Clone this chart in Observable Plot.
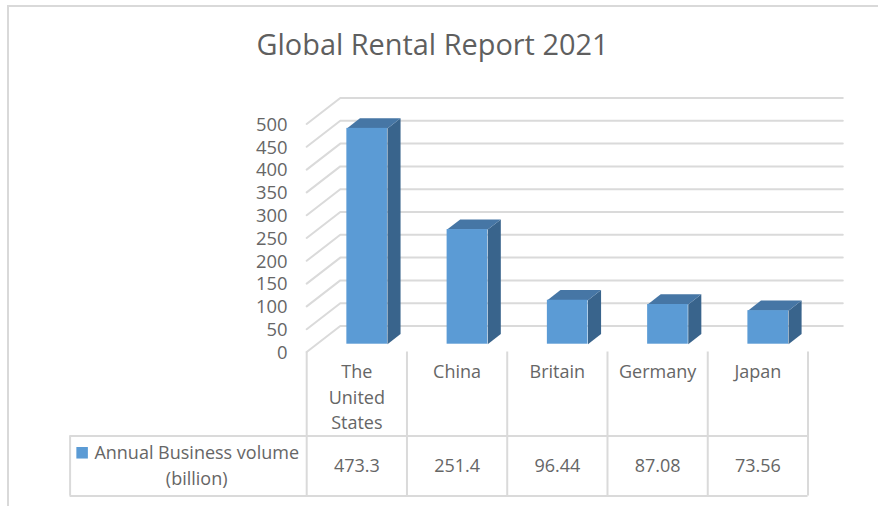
<!DOCTYPE html>
<html>
<head>
<meta charset="utf-8">
<script src="https://cdn.jsdelivr.net/npm/d3@7"></script>
<script src="https://cdn.jsdelivr.net/npm/@observablehq/plot@0.6"></script>
<style>
  html, body { margin: 0; padding: 0; background: #fff; width: 878px; height: 506px; overflow: hidden; }
  body { font-family: "Open Sans", sans-serif; position: relative; }
  #frame { position: absolute; left: 7px; top: 5px; width: 871px; height: 501px; box-sizing: border-box; border-left: 2px solid #d9d9d9; border-top: 2px solid #d9d9d9; }
  #title { position: relative; height: 72px; width: 865px; box-sizing: border-box; padding-top: 26px; text-align: center; font-size: 28.9px; line-height: 36px; color: #5f5f5f; }
  #chart svg { display: block; position: relative; }
</style>
</head>
<body>
<div id="frame"></div>
<div id="title">Global Rental Report 2021</div>
<div id="chart"></div>
<script>
const categories = ["The United States", "China", "Britain", "Germany", "Japan"];
const volumes = [473.3, 251.4, 96.44, 87.08, 73.56];
const volumeLabels = ["473.3", "251.4", "96.44", "87.08", "73.56"];
const yTicks = [0, 50, 100, 150, 200, 250, 300, 350, 400, 450, 500];
const seriesName = "Annual Business volume\n(billion)";

const GRID = "#dadada", TEXT = "#666666";
const FRONT = "#5b9bd5", SIDE = "#39648c", TOP = "#4676a5";

// Oblique projection: depth z (0 = front of floor, 1 = back wall) in data units
const depthX = 0.335, depthY = 57;
const px = (i, z) => i + z * depthX;
const py = (v, z) => v + z * depthY;
const barLeft = 0.3, barWidth = 0.405, z0 = 0.3, z1 = 0.69;

const n = categories.length;
const bars = categories.map((c, i) => ({c, i, v: volumes[i], label: volumeLabels[i]}));

const grid = yTicks.flatMap(t => [
  {t, x: px(0, 0), y: py(t, 0)},
  {t, x: px(0, 1), y: py(t, 1)},
  {t, x: px(n, 1) + 0.012, y: py(t, 1)}
]);
const sideFaces = bars.flatMap(b => {
  const x = b.i + barLeft + barWidth;
  return [[0, z0], [0, z1], [b.v, z1], [b.v, z0]].map(([v, z]) => ({k: b.c, x: px(x, z), y: py(v, z)}));
});
const topFaces = bars.flatMap(b => {
  const l = b.i + barLeft, r = l + barWidth;
  return [[l, z0], [r, z0], [r, z1], [l, z1]].map(([x, z]) => ({k: b.c, x: px(x, z), y: py(b.v, z)}));
});

// table rows, in y-scale units below the floor
const rowLine = -184, tableBottom = -316, tableLeft = -2.36;
const headerY = -18, valueY = -250;
const legendY = -245, legendTextX = -1.097, swatchX = -2.24, swatchY = -221;

const chart = Plot.plot({
  width: 878,
  height: 434,
  marginLeft: 290, marginRight: 0, marginTop: 0, marginBottom: 0,
  style: {fontFamily: "'Open Sans', sans-serif", fontSize: "18px", background: "transparent", overflow: "visible"},
  x: {type: "linear", domain: [0, 5], range: [306.2, 807.5], axis: null},
  y: {type: "linear", domain: [0, 500], range: [279.5, 51.5]},
  marks: [
    Plot.line(grid, {x: "x", y: "y", z: "t", stroke: GRID, strokeWidth: 2}),
    // table
    Plot.ruleX(d3.range(n + 1), {x: d => d, y1: 0, y2: tableBottom, stroke: GRID, strokeWidth: 2}),
    Plot.ruleX([tableLeft], {y1: rowLine, y2: tableBottom, stroke: GRID, strokeWidth: 2}),
    Plot.ruleY([rowLine, tableBottom], {x1: tableLeft, x2: n, stroke: GRID, strokeWidth: 2}),
    // 3D bars
    Plot.line(sideFaces, {x: "x", y: "y", z: "k", fill: SIDE, stroke: null, curve: "linear-closed"}),
    Plot.line(topFaces, {x: "x", y: "y", z: "k", fill: TOP, stroke: null, curve: "linear-closed"}),
    Plot.rect(bars, {
      x1: d => px(d.i + barLeft, z0), x2: d => px(d.i + barLeft + barWidth, z0),
      y1: d => py(0, z0), y2: d => py(d.v, z0), fill: FRONT
    }),
    Plot.axisY({ticks: yTicks, tickSize: 0, tickPadding: 3, label: null, fontSize: 18.4, color: TEXT, dy: 1}),
    // table text
    Plot.text(bars, {x: d => d.i + 0.5, y: headerY, text: "c", lineWidth: 4, lineAnchor: "top", lineHeight: 1.42, fontSize: 18, fill: TEXT}),
    Plot.text(bars, {x: d => d.i + 0.5, y: valueY, text: "label", fontSize: 18, fill: TEXT}),
    Plot.text([seriesName], {x: legendTextX, y: legendY, text: d => d, lineHeight: 1.44, fontSize: 18, fill: TEXT}),
    Plot.dot([seriesName], {x: swatchX, y: swatchY, symbol: "square", r: 6.5, fill: FRONT, stroke: null})
  ]
});
document.getElementById("chart").appendChild(chart);
</script>
</body>
</html>
